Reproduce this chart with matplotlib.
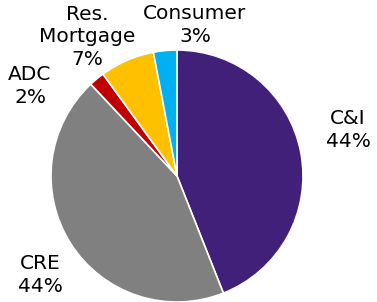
import matplotlib.pyplot as plt

labels = ["C&I", "CRE", "ADC", "Res.\nMortgage", "Consumer"]
shares = [44, 44, 2, 7, 3]
colors = ["#41207A", "#808080", "#C00000", "#FFC000", "#00B0F0"]
# label centres in pixel coords (x, y from top)
label_pos = [(348, 130), (40, 275), (30, 86), (87, 37), (195, 25)]

W, H = 377, 302
fig = plt.figure(figsize=(W / 100, H / 100), dpi=100)
ax = fig.add_axes([0, 0, 1, 1])

wedges, texts = ax.pie(shares, colors=colors, startangle=90, counterclock=False,
                       center=(177, H - 176), radius=126, frame=True,
                       labels=[f"{l}\n{s}%" for l, s in zip(labels, shares)],
                       wedgeprops=dict(edgecolor="white", linewidth=1.2),
                       textprops=dict(fontsize=14.5, color="black"))
for t, (x, y) in zip(texts, label_pos):
    t.set_position((x, H - y))
    t.set_ha("center")
    t.set_va("center")
    t.set_multialignment("center")
    t.set_linespacing(1.25)
ax.set_xlim(0, W)
ax.set_ylim(0, H)
ax.axis("off")

fig.savefig("out.png", dpi=100)
